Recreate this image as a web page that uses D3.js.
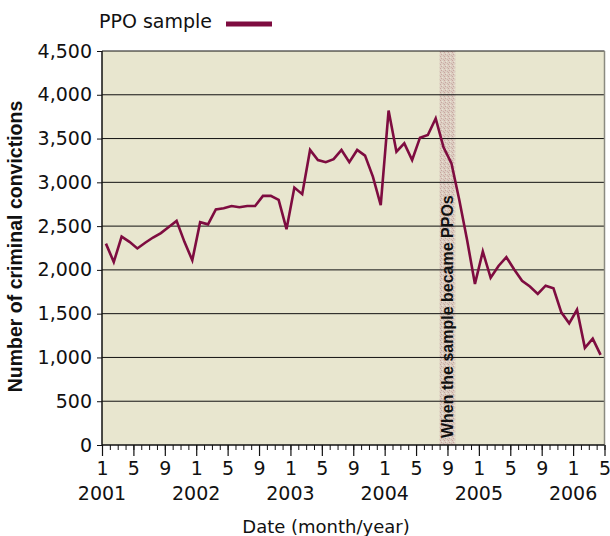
<!DOCTYPE html>
<html>
<head>
<meta charset="utf-8">
<script src="https://cdn.jsdelivr.net/npm/d3@7"></script>
<style>
body { margin: 0; background: #fff; }
</style>
</head>
<body>
<svg id="chart" width="610" height="536" font-family="DejaVu Sans, sans-serif"></svg>
<script>
// monthly convictions, Jan 2001 - Apr 2006
var values = [
	2300, 2090, 2380, 2320, 2245, 2310, 2370, 2420, 2490, 2560, 2320, 2110,
	2545, 2520, 2690, 2705, 2730, 2715, 2730, 2730, 2845, 2845, 2800, 2465,
	2940, 2865, 3370, 3255, 3230, 3265, 3370, 3230, 3370, 3305, 3065, 2740,
	3820, 3350, 3445, 3255, 3510, 3540, 3730, 3400, 3220, 2800, 2340, 1840,
	2210, 1910, 2045, 2145, 2005, 1875, 1810, 1725, 1820, 1790, 1515, 1390,
	1545, 1110, 1215, 1030
];
var years = ["2001", "2002", "2003", "2004", "2005", "2006"];
var monthLabels = ["1", "5", "9"];
var yTicks = [0, 500, 1000, 1500, 2000, 2500, 3000, 3500, 4000, 4500];
var ppoBand = [43, 45]; // Aug - Sep 2004, in months since Jan 2001

var svg = d3.select('#chart');
var pLeft = 102, pRight = 604.5, pTop = 51, pBottom = 445;

var x = d3.scaleLinear().domain([0, 64]).range([pLeft, pRight]);
var y = d3.scaleLinear().domain([0, 4500]).range([pBottom, pTop]);

// speckled texture for the band
var pat = svg.append('defs').append('pattern')
	.attr('id', 'speck')
	.attr('width', 4).attr('height', 4)
	.attr('patternUnits', 'userSpaceOnUse');
pat.append('rect').attr('width', 4).attr('height', 4).attr('fill', '#dccec2');
pat.append('rect').attr('x', 0).attr('y', 0).attr('width', 1).attr('height', 1).attr('fill', '#c9a69f');
pat.append('rect').attr('x', 2).attr('y', 1).attr('width', 1).attr('height', 1).attr('fill', '#ebe3d3');
pat.append('rect').attr('x', 1).attr('y', 2).attr('width', 1).attr('height', 1).attr('fill', '#c9a69f');
pat.append('rect').attr('x', 3).attr('y', 3).attr('width', 1).attr('height', 1).attr('fill', '#cdb3aa');

svg.append('rect')
	.attr('x', pLeft).attr('y', pTop)
	.attr('width', pRight - pLeft).attr('height', pBottom - pTop)
	.attr('fill', '#e8e6cf');

svg.append('rect')
	.attr('x', x(ppoBand[0])).attr('y', pTop)
	.attr('width', x(ppoBand[1]) - x(ppoBand[0]))
	.attr('height', pBottom - pTop)
	.attr('fill', 'url(#speck)');

// gridlines
svg.append('g').selectAll('line')
	.data(yTicks.filter(function(d) { return d > 0; }))
	.enter().append('line')
	.attr('x1', pLeft).attr('x2', pRight)
	.attr('y1', function(d) { return y(d); })
	.attr('y2', function(d) { return y(d); })
	.attr('stroke', '#111')
	.attr('stroke-width', 1);

svg.append('line')
	.attr('x1', pRight).attr('x2', pRight)
	.attr('y1', pTop).attr('y2', pBottom)
	.attr('stroke', '#8a8a80').attr('stroke-width', 1.5);

// annotation
svg.append('text')
	.attr('transform', 'translate(453,438) rotate(-90)')
	.style('font-family', '"Liberation Sans", Arial, sans-serif')
	.style('font-weight', 'bold')
	.style('font-size', '16px')
	.attr('fill', '#111')
	.text('When the sample became PPOs');

// line
var line = d3.line()
	.x(function(d, i) { return x(i + 0.5); })
	.y(function(d) { return y(d); });

svg.append('path')
	.datum(values)
	.attr('d', line)
	.attr('fill', 'none')
	.attr('stroke', '#7e0c40')
	.attr('stroke-width', 2.6)
	.attr('stroke-linejoin', 'miter');

// y axis
var yAxis = svg.append('g')
	.attr('transform', 'translate(' + pLeft + ',0)')
	.call(d3.axisLeft(y).tickValues(yTicks).tickFormat(d3.format(',')).tickSize(5).tickPadding(5));
yAxis.select('.domain').attr('stroke', '#111').attr('stroke-width', 1.5)
	.attr('d', 'M0,' + pTop + 'V' + pBottom);
yAxis.selectAll('.tick line').attr('stroke', '#111');
yAxis.selectAll('.tick text')
	.style('font-family', '"DejaVu Sans", sans-serif')
	.style('font-size', '19px')
	.attr('fill', '#111');

// x axis: minor ticks every month
var xMinor = svg.append('g')
	.attr('transform', 'translate(0,' + pBottom + ')')
	.call(d3.axisBottom(x).tickValues(d3.range(0, 65)).tickSize(5).tickFormat(''));
xMinor.select('.domain').attr('stroke', '#111').attr('stroke-width', 1.5)
	.attr('d', 'M' + pLeft + ',0H' + pRight);
xMinor.selectAll('.tick line').attr('stroke', '#111');

var xMajor = svg.append('g')
	.attr('transform', 'translate(0,' + pBottom + ')')
	.call(d3.axisBottom(x).tickValues(d3.range(0, 65, 4)).tickSize(11).tickPadding(6)
		.tickFormat(function(d) { return monthLabels[(d / 4) % 3]; }));
xMajor.select('.domain').remove();
xMajor.selectAll('.tick line').attr('stroke', '#111').attr('stroke-width', 1.2);
xMajor.selectAll('.tick text')
	.style('font-family', '"DejaVu Sans", sans-serif')
	.style('font-size', '19px')
	.attr('fill', '#111')
	.attr('dy', '0.68em');

svg.append('g').selectAll('text')
	.data(years)
	.enter().append('text')
	.attr('x', function(d, i) { return x(i * 12); })
	.attr('y', 500)
	.attr('text-anchor', 'middle')
	.style('font-size', '19px')
	.attr('fill', '#111')
	.text(function(d) { return d; });

// titles
svg.append('text')
	.attr('x', 326).attr('y', 533)
	.attr('text-anchor', 'middle')
	.style('font-size', '18px')
	.attr('fill', '#111')
	.text('Date (month/year)');

svg.append('text')
	.attr('transform', 'translate(21.5,246.5) rotate(-90)')
	.attr('text-anchor', 'middle')
	.style('font-family', '"Liberation Sans", Arial, sans-serif')
	.style('font-weight', 'bold')
	.style('font-size', '19.5px')
	.attr('fill', '#111')
	.text('Number of criminal convictions');

// legend
svg.append('text')
	.attr('x', 99).attr('y', 28)
	.style('font-size', '19px')
	.attr('fill', '#111')
	.text('PPO sample');
svg.append('line')
	.attr('x1', 226).attr('x2', 272)
	.attr('y1', 24).attr('y2', 24)
	.attr('stroke', '#7e0c40')
	.attr('stroke-width', 5);
</script>
</body>
</html>
